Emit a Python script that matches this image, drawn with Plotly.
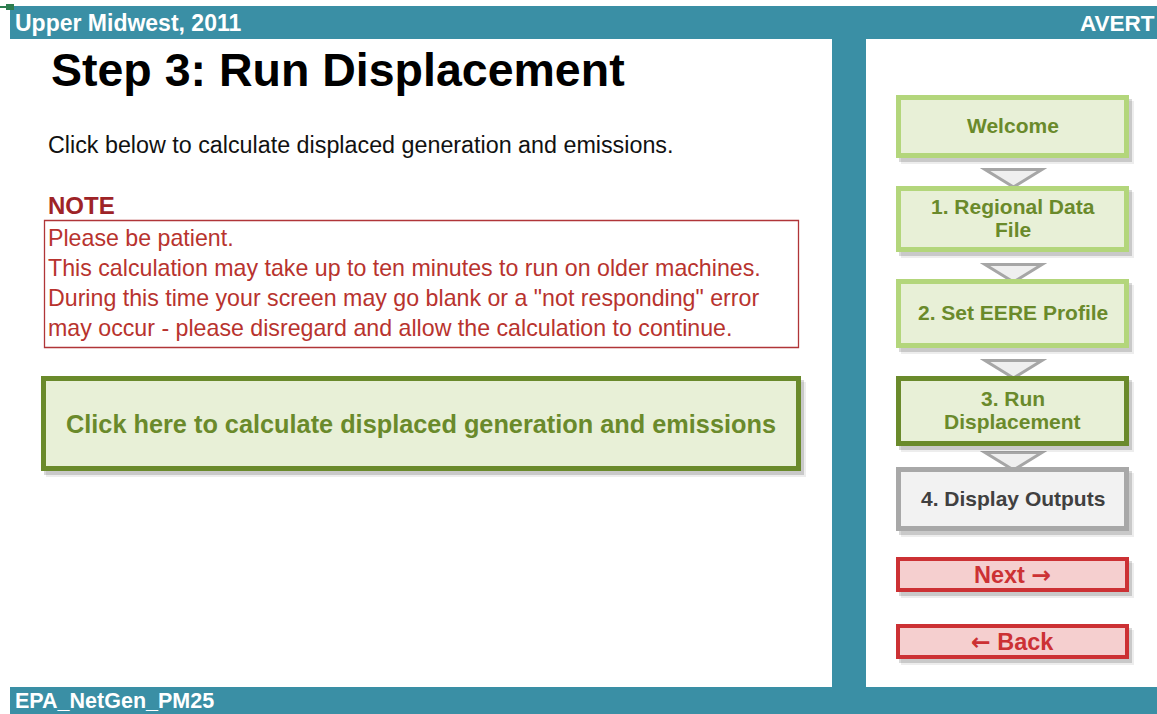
import plotly.graph_objects as go

# ---- text content ----
header_left = "Upper Midwest, 2011"
header_right = "AVERT"
footer_text = "EPA_NetGen_PM25"
page_title = "Step 3: Run Displacement"
intro_text = "Click below to calculate displaced generation and emissions."
note_title = "NOTE"
note_lines = [
    "Please be patient.",
    "This calculation may take up to ten minutes to run on older machines.",
    'During this time your screen may go blank or a "not responding" error',
    "may occur - please disregard and allow the calculation to continue.",
]
run_button_label = "Click here to calculate displaced generation and emissions"
nav_labels = ["Welcome", "1. Regional Data\nFile", "2. Set EERE Profile",
              "3. Run\nDisplacement", "4. Display Outputs"]
nav_kinds = ["done", "done", "done", "current", "todo"]
action_labels = ["Next \u2192", "\u2190 Back"]

# ---- styles ----
TEAL = "#3A8FA5"
FONT = "Arial, Liberation Sans, sans-serif"
STYLES = {
    "done": dict(border="#B3D67B", fill="#E8F0D7", text="#6A8A2B"),
    "current": dict(border="#6A8A2B", fill="#E8F0D7", text="#6A8A2B"),
    "todo": dict(border="#A8A8A8", fill="#F2F2F2", text="#404040"),
    "action": dict(border="#CC3134", fill="#F5CFCF", text="#CC3134"),
}

W, H = 1157, 714
shapes = []
annots = []


def rect(x0, y0, x1, y1, fill=None, line=None, lw=0, layer="above"):
    d = dict(type="rect", xref="x", yref="y", x0=x0, y0=y0, x1=x1, y1=y1,
             layer=layer, line=dict(width=lw, color=line or "rgba(0,0,0,0)"))
    d["fillcolor"] = fill if fill else "rgba(0,0,0,0)"
    shapes.append(d)


def shadow(x0, y0, x1, y1):
    rect(x0 + 5, y0 + 6, x1 + 5, y1 + 6, fill="rgba(0,0,0,0.07)")
    rect(x0 + 3, y0 + 4, x1 + 3, y1 + 4, fill="rgba(0,0,0,0.15)")


def box(x0, y0, x1, y1, style, lw):
    shadow(x0, y0, x1, y1)
    h = lw / 2
    rect(x0 + h, y0 + h, x1 - h, y1 - h, fill=style["fill"], line=style["border"], lw=lw)


def text(x, y, s, size, color, bold=False, anchor="left"):
    if bold:
        s = "<b>" + s + "</b>"
    annots.append(dict(x=x, y=y, xref="x", yref="y", text=s, showarrow=False,
                       xanchor=anchor, yanchor="middle",
                       font=dict(family=FONT, size=size, color=color)))


def arrows(s):
    for ch in ("\u2192", "\u2190"):
        s = s.replace(ch, '<span style="font-family:DejaVu Sans">' + ch + "</span>")
    return s


# background frame
rect(0, 0, W, H, fill="white", layer="below")
rect(10, 6, W, 39, fill=TEAL)
rect(10, 687, W, H, fill=TEAL)
rect(832, 39, 866, 687, fill=TEAL)
rect(6, 4, 14, 10, fill="#2E7D4F")
shapes.append(dict(type="line", x0=0, x1=7, y0=7, y1=7, xref="x", yref="y",
                   line=dict(color="#2E7D4F", width=2)))

text(13, 23, header_left, 23, "white", bold=True)
text(1157, 23, header_right, 22.5, "white", bold=True, anchor="right")
text(13, 701, footer_text, 21.5, "white", bold=True)

# left panel
text(49, 70, page_title, 46.5, "black", bold=True)
text(46, 145, intro_text, 23.3, "#111111")
text(46, 205, note_title, 24, "#9E2327", bold=True)
rect(44.5, 220.5, 798.5, 347.5, line="#B03538", lw=1.3)
for i, ln in enumerate(note_lines):
    text(46, 238 + 30 * i, ln, 23.2, "#B8332E")

box(41, 376, 801, 471, STYLES["current"], 5)
text(421, 424, run_button_label, 25.3, "#6A8A2B", bold=True, anchor="center")

# navigation column
nav_boxes = [(95, 158), (186, 252), (279, 348), (376, 446), (467, 531)]
arrow_tops = [168, 263, 359, 451]
for yt in arrow_tops:
    shapes.append(dict(type="path", xref="x", yref="y",
                       path=f"M 985 {yt+1.5} L 1042 {yt+1.5} L 1013.5 {yt+19} Z",
                       fillcolor="#EFEFEF", line=dict(color="#A6A6A6", width=3)))

for (y0, y1), lab, kind in zip(nav_boxes, nav_labels, nav_kinds):
    st = STYLES[kind]
    box(896, y0, 1129, y1, st, 5)
    lines = lab.split("\n")
    cy = (y0 + y1) / 2 - 1
    n = len(lines)
    for j, ln in enumerate(lines):
        text(1012.5, cy + (j - (n - 1) / 2) * 23.5, ln, 21, st["text"], bold=True, anchor="center")

action_boxes = [(557, 592), (624, 659)]
for (y0, y1), lab in zip(action_boxes, action_labels):
    st = STYLES["action"]
    box(896, y0, 1129, y1, st, 4)
    text(1012.5, (y0 + y1) / 2, arrows(lab), 23.5, st["text"], bold=True, anchor="center")

fig = go.Figure()
fig.update_layout(
    width=W, height=H, margin=dict(l=0, r=0, t=0, b=0),
    paper_bgcolor="white", plot_bgcolor="white",
    xaxis=dict(range=[0, W], visible=False, fixedrange=True),
    yaxis=dict(range=[H, 0], visible=False, fixedrange=True),
    shapes=shapes, annotations=annots, showlegend=False,
)
fig.write_html("out.html", config={"displayModeBar": False},
               post_script="document.body.style.margin='0';document.body.style.padding='0';"
                           "document.documentElement.style.overflow='hidden';")
